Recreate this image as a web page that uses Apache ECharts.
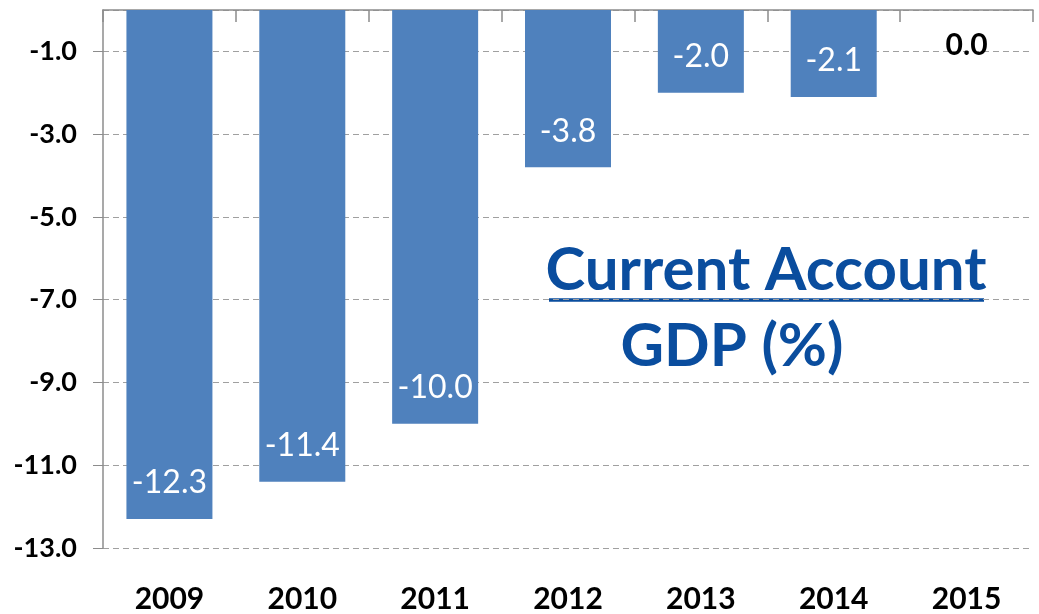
<!DOCTYPE html>
<html>
<head>
<meta charset="utf-8">
<script src="https://cdn.jsdelivr.net/npm/echarts@6/dist/echarts.min.js"></script>
<style>
  html, body { margin: 0; padding: 0; background: #fff; }
  #chart { width: 1039px; height: 614px; }
</style>
</head>
<body>
<div id="chart"></div>
<script>
// data
var years = ['2009', '2010', '2011', '2012', '2013', '2014', '2015'];
var currentAccount = [-12.3, -11.4, -10.0, -3.8, -2.0, -2.1, 0.0];
var yMin = -13, yMax = 0, yStep = 2;

var chart = echarts.init(document.getElementById('chart'));

var barData = currentAccount.map(function (v, i) {
  if (v === 0) {
    // zero bar: label sits below the axis in black bold
    return {
      value: v,
      label: { position: 'bottom', distance: 20, color: '#000', fontWeight: 'bold', fontSize: 30 }
    };
  }
  return v;
});

var option = {
  animation: false,
  grid: { left: 103, right: 6, top: 10, bottom: 66 },
  xAxis: [{
    type: 'category',
    position: 'bottom',
    data: years,
    axisLine: { show: false },
    axisTick: { show: false },
    axisLabel: {
      margin: 36,
      color: '#000',
      fontFamily: 'Lato',
      fontWeight: 'bold',
      fontSize: 30
    }
  }, {
    // zero line along the top, ticks hanging down between the bars
    type: 'category',
    position: 'bottom',
    offset: -538,
    data: years,
    axisLine: { show: true, onZero: false, lineStyle: { color: '#8c8c8c', width: 1.5 } },
    axisTick: { show: true, interval: 0, length: 12, lineStyle: { color: '#8c8c8c', width: 1.5 } },
    axisLabel: { show: false },
    splitLine: { show: false }
  }],
  yAxis: {
    type: 'value',
    min: yMin,
    max: yMax,
    interval: yStep,
    axisLine: { show: true, lineStyle: { color: '#8c8c8c', width: 1.5 } },
    axisTick: { show: true, length: 10, lineStyle: { color: '#8c8c8c' } },
    axisLabel: {
      margin: 26,
      color: '#000',
      fontFamily: 'Lato',
      fontWeight: 'bold',
      fontSize: 27,
      showMaxLabel: false,
      formatter: function (v) { return v === 0 ? '' : v.toFixed(1); }
    },
    splitLine: { lineStyle: { color: '#a0a0a0', type: [6, 4], width: 1.2 } }
  },
  series: [{
    type: 'bar',
    xAxisIndex: 0,
    data: barData,
    barWidth: 86,
    itemStyle: { color: '#4F81BD' },
    label: {
      show: true,
      position: 'insideBottom',
      distance: 20,
      color: '#fff',
      fontFamily: 'Lato',
      fontSize: 32,
      formatter: function (p) { return p.value.toFixed(1); }
    }
  }],
  graphic: [{
    type: 'text',
    style: {
      text: 'Current Account',
      x: 766, y: 271,
      align: 'center', verticalAlign: 'middle',
      font: 'bold 60px Lato',
      fill: '#0A4D9E'
    }
  }, {
    type: 'line',
    shape: { x1: 549, y1: 300, x2: 984, y2: 300 },
    style: { stroke: '#0A4D9E', lineWidth: 3.5 }
  }, {
    type: 'text',
    style: {
      text: 'GDP (%)',
      x: 732, y: 347,
      align: 'center', verticalAlign: 'middle',
      font: 'bold 60px Lato',
      fill: '#0A4D9E'
    }
  }]
};

chart.setOption(option);
</script>
</body>
</html>
